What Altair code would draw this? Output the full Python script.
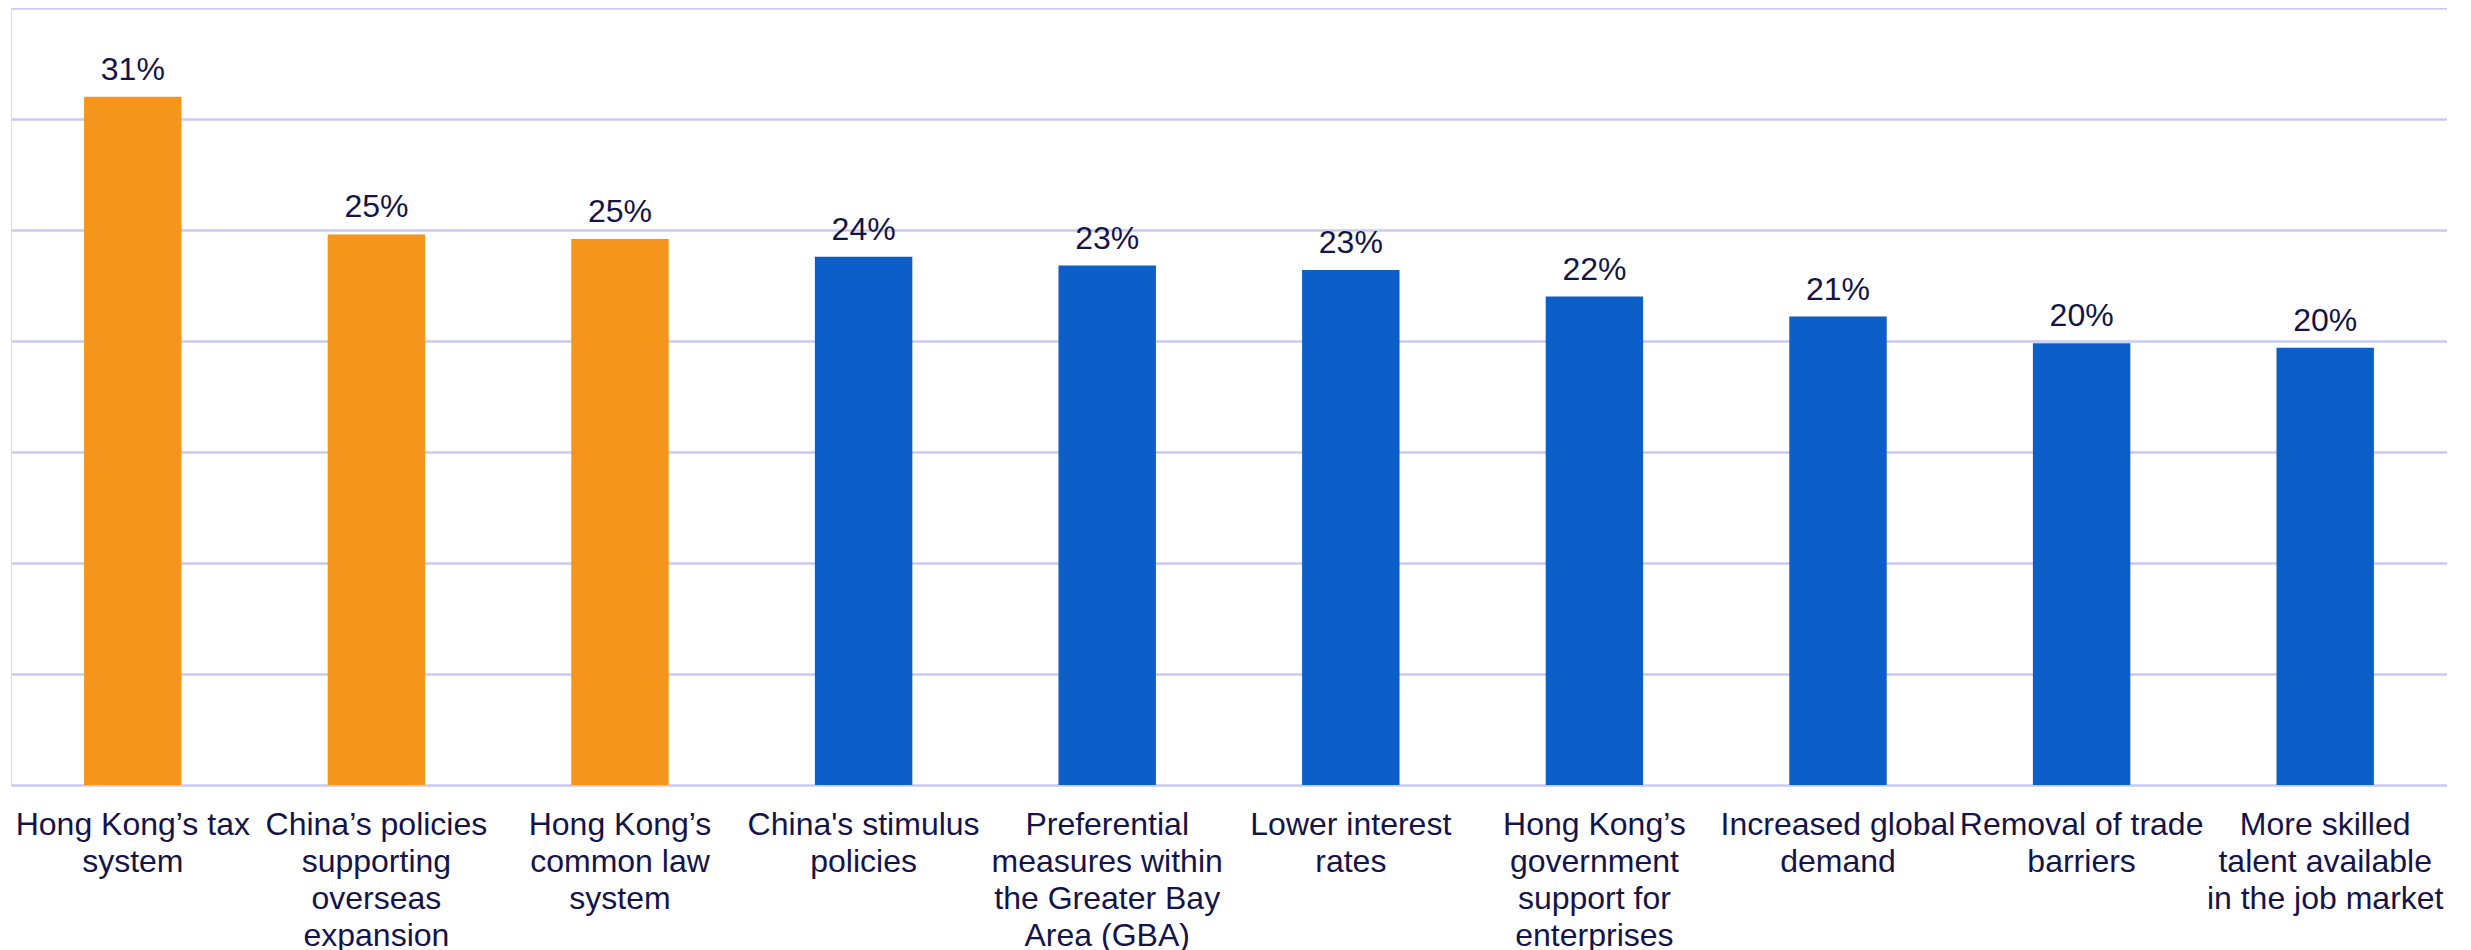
import altair as alt
import pandas as pd

categories = [
    "Hong Kong’s tax|system",
    "China’s policies|supporting|overseas|expansion",
    "Hong Kong’s|common law|system",
    "China's stimulus|policies",
    "Preferential|measures within|the Greater Bay|Area (GBA)",
    "Lower interest|rates",
    "Hong Kong’s|government|support for|enterprises",
    "Increased global|demand",
    "Removal of trade|barriers",
    "More skilled|talent available|in the job market",
]
values = [31.0, 24.8, 24.6, 23.8, 23.4, 23.2, 22.0, 21.1, 19.9, 19.7]
groups = ["hk", "hk", "hk", "other", "other", "other", "other", "other", "other", "other"]

df = pd.DataFrame({"cat": categories, "val": values, "grp": groups})
df["lbl"] = [f"{round(v):.0f}%" for v in values]

FONT = "Liberation Sans"
TXT = "#14144a"

x = alt.X(
    "cat:N",
    sort=categories,
    scale=alt.Scale(paddingInner=0.6, paddingOuter=0.3),
    axis=alt.Axis(
        title=None, labelAngle=0, domain=False, ticks=False,
        labelExpr="split(datum.label, '|')",
        labelFont=FONT, labelFontSize=32, labelColor=TXT,
        labelLineHeight=37, labelPadding=39, labelLimit=400,
        labelBaseline="middle",
    ),
)
y = alt.Y(
    "val:Q",
    scale=alt.Scale(domain=[0, 35], nice=False),
    axis=alt.Axis(
        title=None, labels=False, ticks=False, domain=False,
        values=[0, 5, 10, 15, 20, 25, 30, 35],
        grid=True, gridColor="#c9caf2", gridWidth=2.6,
    ),
)

bars = alt.Chart(df).mark_bar().encode(
    x=x, y=y,
    color=alt.Color("grp:N", scale=alt.Scale(domain=["hk", "other"], range=["#f5951c", "#0c5ec8"]), legend=None),
)
text = alt.Chart(df).mark_text(
    baseline="alphabetic", dy=-17, font=FONT, fontSize=32, color=TXT
).encode(x=x, y=y, text="lbl:N")

chart = (bars + text).properties(
    width=2436, height=777,
    padding={"left": 3, "top": 0, "right": 0, "bottom": 0},
).configure_view(stroke=None).configure(background="white")

chart.save("out.html", embed_options={"renderer": "svg", "actions": False})
